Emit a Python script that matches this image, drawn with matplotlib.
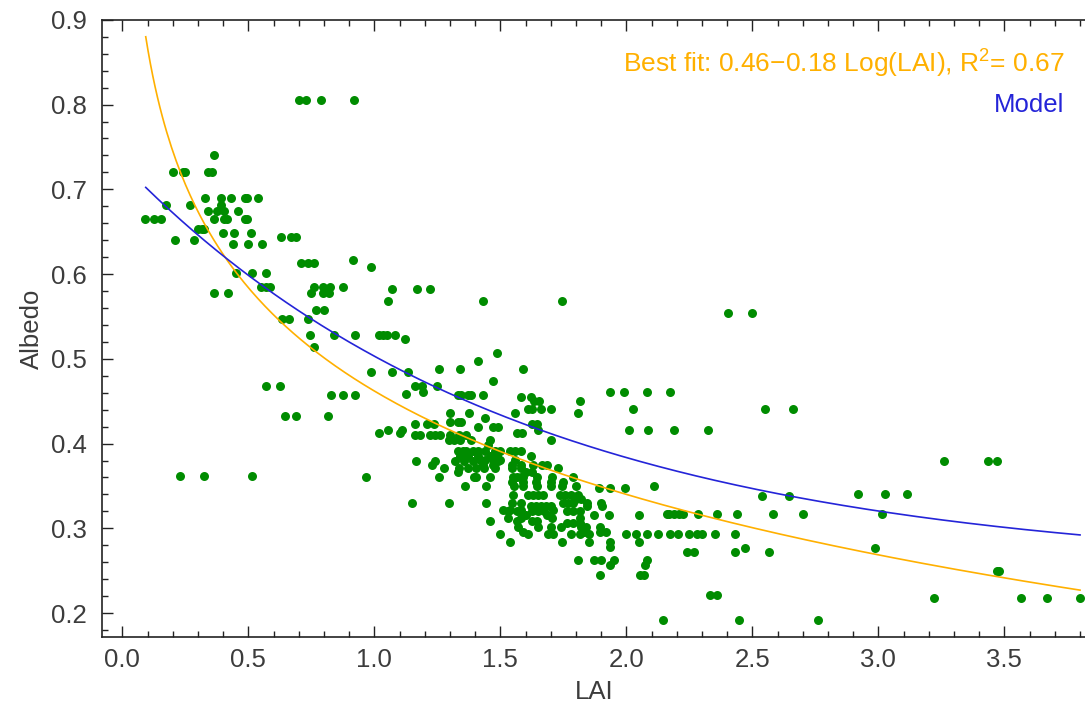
import matplotlib.pyplot as plt
from matplotlib.ticker import MultipleLocator
import numpy as np

plt.rcParams['font.family'] = ['Liberation Sans', 'DejaVu Sans']
plt.rcParams['mathtext.fontset'] = 'custom'
plt.rcParams['mathtext.rm'] = 'Liberation Sans'

lai = [
    0.70, 0.73, 0.79, 0.92,
    0.365,
    0.20, 0.24, 0.25, 0.34, 0.355,
    0.33, 0.39, 0.43, 0.485, 0.495, 0.54,
    0.175, 0.27, 0.39,
    0.34, 0.375, 0.405, 0.46,
    0.09, 0.125, 0.155, 0.365, 0.405, 0.415, 0.485, 0.495,
    0.30, 0.315, 0.325,
    0.40, 0.445, 0.51,
    0.63, 0.67, 0.69,
    0.21, 0.285,
    0.44, 0.50, 0.555,
    0.71, 0.735, 0.76,
    0.915,
    0.985,
    0.45, 0.515, 0.57,
    0.55, 0.57, 0.585, 0.76, 0.795, 0.825, 0.875,
    1.07, 1.17, 1.22,
    0.365, 0.42, 0.75, 0.795, 0.82,
    1.055, 1.43, 1.745,
    0.77, 0.80,
    2.405, 2.50,
    0.635, 0.66, 0.735,
    0.745, 0.84, 0.925, 1.02, 1.035, 1.05, 1.08,
    1.12,
    0.76,
    1.485,
    1.41,
    1.255, 1.34, 1.59,
    0.985, 1.07, 1.135,
    1.47,
    0.57, 0.625, 1.16, 1.19, 1.25,
    1.195, 1.935, 1.99, 2.08, 2.175,
    1.125,
    0.83, 0.875, 0.925, 1.33, 1.345, 1.37, 1.385, 1.43,
    1.58, 1.62,
    1.635, 1.655, 1.815,
    1.61, 1.625, 1.66, 1.70, 2.025, 2.55, 2.66,
    1.30, 1.375, 1.56, 1.81,
    0.645, 0.69, 0.815,
    1.44,
    1.30, 1.33, 1.345,
    1.16, 1.21, 1.235, 1.625, 1.645,
    1.41, 1.47, 1.49,
    1.055, 1.11, 1.65, 2.01, 2.085, 2.19, 2.325,
    1.02, 1.10, 1.565, 1.585,
    1.16, 1.18, 1.22, 1.24, 1.26, 1.30, 1.335, 1.365,
    1.295, 1.315, 1.34, 1.385, 1.46, 1.70,
    1.45,
    1.33, 1.35, 1.365, 1.39, 1.41, 1.44, 1.48, 1.50, 1.54, 1.56, 1.58,
    1.34, 1.37, 1.41, 1.46, 1.485, 1.62,
    1.42, 1.44, 1.47, 1.50, 1.56,
    1.165, 1.24, 1.32, 1.355, 1.39, 1.49, 3.26, 3.435, 3.47,
    1.23, 1.43, 1.47, 1.545, 1.58, 1.63, 1.665, 1.685,
    1.275, 1.335, 1.37, 1.405, 1.435, 1.48, 1.545, 1.58, 1.73,
    1.33, 1.60, 1.625,
    0.23, 0.325, 0.515,
    0.965, 1.255, 1.395, 1.405, 1.46, 1.55, 1.565, 1.58, 1.59, 1.645, 1.705, 1.79,
    1.545, 1.59, 1.64, 1.70, 1.75,
    1.36, 1.445, 1.555, 1.59, 1.645, 1.70, 1.745, 1.80, 2.11,
    1.89, 1.935, 1.995,
    2.92, 3.025, 3.115,
    1.55, 1.61, 1.63, 1.65, 1.67, 1.735, 1.755, 1.78, 1.81,
    2.54, 2.645,
    1.80, 1.82,
    1.15, 1.295, 1.445, 1.545, 1.58, 1.75, 1.77, 1.79, 1.845, 1.90,
    1.62, 1.64, 1.66, 1.68, 1.70, 1.845, 1.905,
    1.51, 1.54, 1.58, 1.63, 1.71,
    1.53, 1.565, 1.625, 1.65, 1.675, 1.765, 1.79, 1.815,
    2.16, 2.17, 2.19, 2.21, 2.225, 2.285, 2.36, 2.44, 2.58, 2.70, 3.015,
    1.60, 1.685, 1.87, 1.93, 2.05,
    1.53, 1.58, 1.705, 1.815,
    1.46, 1.565, 1.625, 1.645,
    1.765, 1.79, 1.815,
    1.57, 1.65, 1.70, 1.74, 1.82, 1.84, 1.895,
    1.59, 1.83, 1.895, 1.92,
    1.50, 1.61, 1.69, 1.71, 1.78, 1.815, 1.85, 2.00, 2.04, 2.08, 2.125, 2.175,
    2.205, 2.25, 2.28, 2.30, 2.35, 2.43,
    1.54, 1.745, 1.85, 1.935, 2.05,
    1.935,
    2.47, 2.985,
    2.24, 2.27, 2.43, 2.565,
    1.81, 1.87, 1.90, 1.95, 2.08,
    1.935, 2.075,
    3.47, 3.48,
    1.895, 2.055, 2.07,
    2.33, 2.36,
    3.22, 3.565, 3.67, 3.80,
    2.145, 2.445, 2.76,
]

albedo = [
    0.805, 0.805, 0.805, 0.805,
    0.741,
    0.72, 0.72, 0.72, 0.72, 0.72,
    0.69, 0.69, 0.69, 0.69, 0.69, 0.69,
    0.682, 0.682, 0.682,
    0.675, 0.675, 0.675, 0.675,
    0.665, 0.665, 0.665, 0.665, 0.665, 0.665, 0.665, 0.665,
    0.653, 0.653, 0.653,
    0.648, 0.648, 0.648,
    0.644, 0.644, 0.644,
    0.64, 0.64,
    0.635, 0.635, 0.635,
    0.613, 0.613, 0.613,
    0.617,
    0.608,
    0.601, 0.601, 0.601,
    0.585, 0.585, 0.585, 0.585, 0.585, 0.585, 0.585,
    0.582, 0.582, 0.582,
    0.578, 0.578, 0.578, 0.578, 0.578,
    0.568, 0.568, 0.568,
    0.558, 0.558,
    0.554, 0.554,
    0.547, 0.547, 0.547,
    0.528, 0.528, 0.528, 0.528, 0.528, 0.528, 0.528,
    0.523,
    0.514,
    0.507,
    0.498,
    0.488, 0.488, 0.488,
    0.485, 0.485, 0.485,
    0.474,
    0.468, 0.468, 0.468, 0.468, 0.468,
    0.461, 0.461, 0.461, 0.461, 0.461,
    0.459,
    0.457, 0.457, 0.457, 0.457, 0.457, 0.457, 0.457, 0.457,
    0.455, 0.455,
    0.450, 0.450, 0.450,
    0.441, 0.441, 0.441, 0.441, 0.441, 0.441, 0.441,
    0.436, 0.436, 0.436, 0.436,
    0.433, 0.433, 0.433,
    0.430,
    0.426, 0.426, 0.426,
    0.423, 0.423, 0.423, 0.423, 0.423,
    0.419, 0.419, 0.419,
    0.416, 0.416, 0.416, 0.416, 0.416, 0.416, 0.416,
    0.412, 0.412, 0.412, 0.412,
    0.410, 0.410, 0.410, 0.410, 0.410, 0.410, 0.410, 0.410,
    0.404, 0.404, 0.404, 0.404, 0.404, 0.404,
    0.398,
    0.391, 0.391, 0.391, 0.391, 0.391, 0.391, 0.391, 0.391, 0.391, 0.391, 0.391,
    0.385, 0.385, 0.385, 0.385, 0.385, 0.385,
    0.381, 0.381, 0.381, 0.381, 0.381,
    0.379, 0.379, 0.379, 0.379, 0.379, 0.379, 0.379, 0.379, 0.379,
    0.375, 0.375, 0.375, 0.375, 0.375, 0.375, 0.375, 0.375,
    0.371, 0.371, 0.371, 0.371, 0.371, 0.371, 0.371, 0.371, 0.371,
    0.367, 0.367, 0.367,
    0.362, 0.362, 0.362,
    0.360, 0.360, 0.360, 0.360, 0.360, 0.360, 0.360, 0.360, 0.360, 0.360, 0.360, 0.360,
    0.355, 0.355, 0.355, 0.355, 0.355,
    0.350, 0.350, 0.350, 0.350, 0.350, 0.350, 0.350, 0.350, 0.350,
    0.347, 0.347, 0.347,
    0.341, 0.341, 0.341,
    0.339, 0.339, 0.339, 0.339, 0.339, 0.339, 0.339, 0.339, 0.339,
    0.338, 0.338,
    0.334, 0.334,
    0.330, 0.330, 0.330, 0.330, 0.330, 0.330, 0.330, 0.330, 0.330, 0.330,
    0.326, 0.326, 0.326, 0.326, 0.326, 0.326, 0.326,
    0.322, 0.322, 0.322, 0.322, 0.322,
    0.320, 0.320, 0.320, 0.320, 0.320, 0.320, 0.320, 0.320,
    0.317, 0.317, 0.317, 0.317, 0.317, 0.317, 0.317, 0.317, 0.317, 0.317, 0.317,
    0.316, 0.316, 0.316, 0.316, 0.316,
    0.312, 0.312, 0.312, 0.312,
    0.309, 0.309, 0.309, 0.309,
    0.306, 0.306, 0.306,
    0.302, 0.302, 0.302, 0.302, 0.302, 0.302, 0.302,
    0.296, 0.296, 0.296, 0.296,
    0.293, 0.293, 0.293, 0.293, 0.293, 0.293, 0.293, 0.293, 0.293, 0.293, 0.293, 0.293,
    0.293, 0.293, 0.293, 0.293, 0.293, 0.293,
    0.284, 0.284, 0.284, 0.284, 0.284,
    0.278,
    0.277, 0.277,
    0.272, 0.272, 0.272, 0.272,
    0.263, 0.263, 0.263, 0.263, 0.263,
    0.257, 0.257,
    0.250, 0.250,
    0.245, 0.245, 0.245,
    0.221, 0.221,
    0.218, 0.218, 0.218, 0.218,
    0.192, 0.192, 0.192,
]

# best fit a - b*ln(LAI) and the exponential model
fit_a, fit_b = 0.462, 0.176
model_base, model_amp, model_k = 0.25, 0.48, 0.64
fit_label = 'Best fit: 0.46\u22120.18 Log(LAI), R$^{2}$= 0.67'

lai_curve = np.linspace(0.093, 3.8, 400)
fit_curve = fit_a - fit_b * np.log(lai_curve)
model_curve = model_base + model_amp * np.exp(-model_k * lai_curve)

fig = plt.figure(figsize=(10.85, 7.16), dpi=100)
ax = fig.add_axes([0.094, 0.1103, 0.907, 0.862])

ax.scatter(lai, albedo, s=42, color='#008c00', linewidths=0, zorder=2)
ax.plot(lai_curve, fit_curve, color='#ffb000', lw=1.2, zorder=3)
ax.plot(lai_curve, model_curve, color='#2424d8', lw=1.2, zorder=3)

ax.text(0.978, 0.930, fit_label, transform=ax.transAxes, ha='right', va='center',
        fontsize=19, color='#ffb000')
ax.text(0.978, 0.862, 'Model', transform=ax.transAxes, ha='right', va='center',
        fontsize=18.5, color='#2424d8')

ax.set_xlim(-0.0806, 3.824)
ax.set_ylim(0.1717, 0.9)
ax.set_xticks(np.arange(0, 3.51, 0.5))
ax.set_yticks(np.arange(0.2, 0.91, 0.1))
ax.xaxis.set_minor_locator(MultipleLocator(0.1))
ax.yaxis.set_minor_locator(MultipleLocator(0.02))
ax.xaxis.set_major_formatter(plt.FormatStrFormatter('%.1f'))
ax.yaxis.set_major_formatter(plt.FormatStrFormatter('%.1f'))

ax.tick_params(which='both', direction='in', top=True, right=False,
               color='#222222', width=1.0, labelcolor='#3c3c3c', labelsize=18.5)
ax.tick_params(which='major', length=8)
ax.tick_params(which='minor', length=4)
ax.tick_params(axis='x', pad=8)
ax.tick_params(axis='y', pad=11)

for side in ['left', 'bottom', 'top']:
    ax.spines[side].set_color('#222222')
    ax.spines[side].set_linewidth(1.2)
ax.spines['right'].set_visible(False)

ax.set_xlabel('LAI', fontsize=18.5, color='#3c3c3c', labelpad=6)
ax.set_ylabel('Albedo', fontsize=18.5, color='#3c3c3c', labelpad=5)

fig.savefig('out.png', dpi=100)
